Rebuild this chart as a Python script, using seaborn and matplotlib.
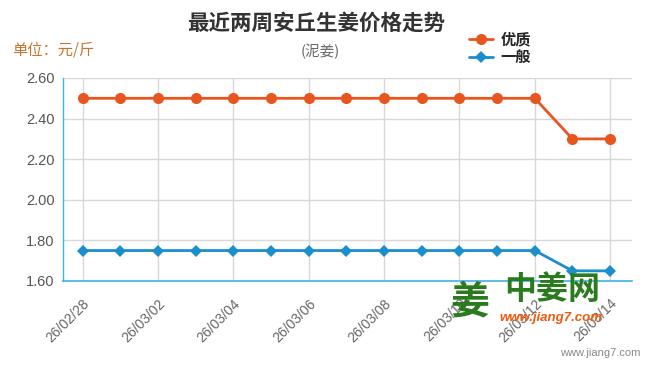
import matplotlib
matplotlib.use("Agg")
import matplotlib.pyplot as plt
import numpy as np
import pandas as pd
import seaborn as sns

DATES = ["26/02/28", "26/03/01", "26/03/02", "26/03/03", "26/03/04",
         "26/03/05", "26/03/06", "26/03/07", "26/03/08", "26/03/09",
         "26/03/10", "26/03/11", "26/03/12", "26/03/13", "26/03/14"]
YOUZHI = [2.5, 2.5, 2.5, 2.5, 2.5, 2.5, 2.5, 2.5, 2.5, 2.5, 2.5, 2.5, 2.5, 2.3, 2.3]
YIBAN = [1.75, 1.75, 1.75, 1.75, 1.75, 1.75, 1.75, 1.75, 1.75, 1.75, 1.75, 1.75, 1.75, 1.65, 1.65]
Y_TICKS = [1.6, 1.8, 2.0, 2.2, 2.4, 2.6]

ORANGE = "#e8561f"
BLUE = "#1a8fcc"
AXIS_BLUE = "#3cb4e6"

sns.set_style("white")
plt.rcParams["font.family"] = ["Noto Sans CJK SC", "DejaVu Sans"]

df = pd.DataFrame({"idx": np.arange(len(DATES)), "date": DATES,
                   "优质": YOUZHI, "一般": YIBAN})

fig = plt.figure(figsize=(6.5, 3.67), dpi=100)
ax = fig.add_axes([63 / 650, 1 - 281 / 367, (632 - 63) / 650, (281 - 78) / 367])

sns.lineplot(data=df, x="idx", y="优质", ax=ax, color=ORANGE, linewidth=2,
             marker="o", markersize=8, markeredgewidth=0, label="优质")
sns.lineplot(data=df, x="idx", y="一般", ax=ax, color=BLUE, linewidth=2,
             marker="D", markersize=6, markeredgewidth=0, label="一般")

ax.set_xlim(-0.52, 14.58)
ax.set_ylim(1.6, 2.6)
ax.set_yticks(Y_TICKS)
ax.set_yticklabels([f"{v:.2f}" for v in Y_TICKS], color="#555555", fontsize=10.5,
                   family="Liberation Sans")
xt = list(range(0, len(DATES), 2))
ax.set_xticks(xt)
ax.set_xticklabels([DATES[i] for i in xt], rotation=45, ha="right",
                   rotation_mode="anchor", color="#666666", fontsize=10,
                   family="Liberation Sans")
ax.tick_params(axis="x", length=8, color=AXIS_BLUE, width=1, pad=3)
ax.tick_params(axis="y", length=0, pad=6)
ax.grid(axis="y", color="#d8d8d8", linewidth=1)
ax.grid(axis="x", color="#d8d8d8", linewidth=1)
ax.set_axisbelow(True)
ax.set_xlabel("")
ax.set_ylabel("")
for s in ["top", "right"]:
    ax.spines[s].set_visible(False)
ax.spines["left"].set_color(AXIS_BLUE)
ax.spines["bottom"].set_color(AXIS_BLUE)
ax.spines["left"].set_linewidth(1)
ax.spines["bottom"].set_linewidth(1.2)

ax.legend(loc="upper left", bbox_to_anchor=(455 / 650, 1 - 18 / 367),
          bbox_transform=fig.transFigure, frameon=False,
          handlelength=1.6, handletextpad=0.5, labelspacing=0.1,
          prop={"weight": "bold", "size": 11})

fig.text(316 / 650, 1 - 23 / 367, "最近两周安丘生姜价格走势", ha="center",
         va="center", fontsize=15.5, fontweight="bold", color="#333333")
fig.text(320 / 650, 1 - 51 / 367, "(泥姜)", ha="center", va="center",
         fontsize=10.5, color="#666666")
fig.text(12 / 650, 1 - 50 / 367, "单位：元/斤", ha="left", va="center",
         fontsize=11, color="#c8732e")

# watermark
fig.text(470 / 650, 1 - 302 / 367, "姜", ha="center", va="center",
         fontsize=28, fontweight="bold", color="#2a7a1e")
fig.text(552 / 650, 1 - 290 / 367, "中姜网", ha="center", va="center",
         fontsize=23, fontweight="bold", color="#2a7a1e")
fig.text(551 / 650, 1 - 318 / 367, "www.jiang7.com", ha="center", va="center",
         fontsize=9.5, fontweight="bold", fontstyle="italic", color="#f05a10",
         family="Liberation Sans")
fig.text(640 / 650, 1 - 353 / 367, "www.jiang7.com", ha="right", va="center",
         fontsize=8, color="#888888", family="Liberation Sans")

fig.savefig("out.png", dpi=100, facecolor="white")
